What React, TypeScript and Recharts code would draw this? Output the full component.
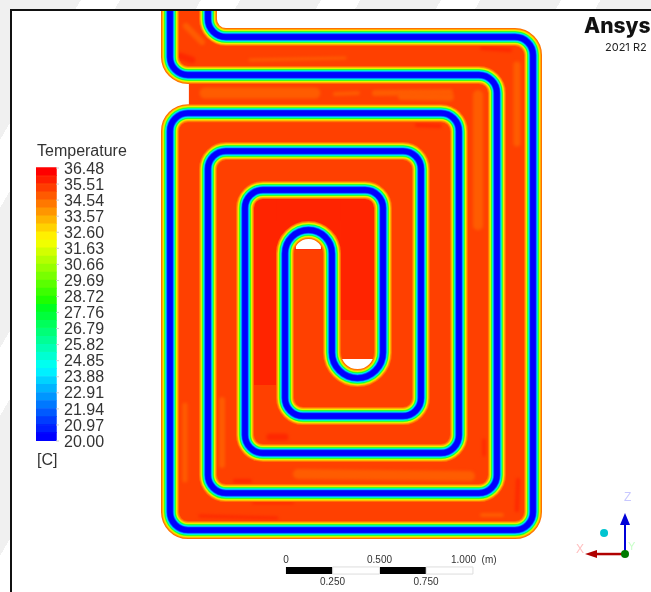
import { Bar, BarChart, Cell, ComposedChart, Line, ReferenceArea, ReferenceDot, XAxis, YAxis } from 'recharts'

// Pipe centreline, in metres (scale bar: 0 to 1 m is 187 px)
const pipeX = [-0.417, -0.417, 1.321, 1.321, -0.62, -0.62, 0.925, 0.925, -0.219, -0.219, 0.519, 0.519, 0.246, 0.246, -0.005, -0.005, 0.722, 0.722, -0.417, -0.417, 1.128, 1.128, -0.62, -0.62]
const pipeY = [2.829, 2.69, 2.69, 0.053, 0.053, 2.283, 2.283, 0.465, 0.465, 1.872, 1.872, 0.866, 0.866, 1.658, 1.658, 0.663, 0.663, 2.08, 2.08, 0.251, 0.251, 2.487, 2.487, 2.829]

// Temperature bands of the pipe wall, outer edge to centre
const pipeBandColors = ['#ff7000', '#ffa000', '#ffd200', '#e0ff00', '#80ff00', '#00ff40', '#00ffb0', '#00e0ff', '#0090ff', '#0040ff', '#0000ff']
const pipeBandWidths = [18, 16, 14.6, 13.4, 12.2, 11, 9.8, 8.6, 7.4, 6.4, 5.4]

// Rectangles [x1, x2, y1, y2] in metres
const fieldBoxes = [
  [-0.62, 1.321, 2.283, 0.053],
  [-0.519, 1.321, 2.49, 2.27],
  [-0.62, 1.321, 2.69, 2.48],
  [-0.62, -0.417, 2.829, 2.68],
]
const hotBoxes = [
  [-0.171, -0.053, 1.824, 0.829],
  [-0.171, 0.471, 1.824, 1.706],
  [0.294, 0.471, 1.824, 1.176],
  [-0.053, 0.294, 1.824, 1.551],
]
const emptyBoxes = [
  [0.053, 0.187, 1.668, 1.556],
  [0.289, 0.476, 0.968, 0.856],
]

// Patches of the flow field [x1, y1, x2, y2]
const warmPatches = [
  [-0.535, 2.749, -0.449, 2.663],
  [-0.193, 2.567, 0.316, 2.578],
  [-0.433, 2.39, 0.155, 2.39],
  [0.262, 2.385, 0.385, 2.39],
  [0.476, 2.39, 0.877, 2.396],
  [1.235, 2.54, 1.235, 2.123],
  [1.027, 2.38, 1.027, 1.684],
  [0.62, 2.374, 0.877, 2.369],
  [-0.54, 0.722, -0.54, 0.321],
  [-0.342, 0.749, -0.342, 0.401],
  [0.064, 0.353, 0.984, 0.342],
  [1.048, 0.134, 1.155, 0.134],
]
const warmWidths = [6, 3, 11, 4, 6, 7, 10, 8, 5, 6, 10, 4]
const hotPatches = [
  [-0.567, 2.588, -0.503, 2.567],
  [-0.086, 0.551, -0.005, 0.551],
  [-0.273, 0.316, -0.193, 0.316],
  [-0.46, 0.128, -0.048, 0.118],
  [-0.176, 0.198, 0.037, 0.198],
  [1.048, 2.631, 1.198, 2.62],
  [1.241, 0.321, 1.235, 0.16],
  [1.059, 0.535, 1.059, 0.455],
  [0.701, 2.219, 0.824, 2.214],
]
const hotWidths = [7, 7, 4, 3, 2, 4, 4, 3, 4]

// Legend
const legendTicks = [36.48, 35.51, 34.54, 33.57, 32.6, 31.63, 30.66, 29.69, 28.72, 27.76, 26.79, 25.82, 24.85, 23.88, 22.91, 21.94, 20.97, 20]
const bandTemps = [36.24, 35.75, 35.27, 34.78, 34.3, 33.81, 33.33, 32.84, 32.36, 31.87, 31.39, 30.9, 30.42, 29.93, 29.45, 28.96, 28.48, 27.99, 27.51, 27.02, 26.54, 26.06, 25.57, 25.09, 24.6, 24.12, 23.63, 23.15, 22.66, 22.18, 21.69, 21.21, 20.72, 20.24]
const bandColors = ['#ff0000', '#ff1e00', '#ff3c00', '#ff5a00', '#ff7800', '#ff9600', '#ffb400', '#ffd200', '#fff000', '#f0ff00', '#d2ff00', '#b4ff00', '#96ff00', '#78ff00', '#5aff00', '#3cff00', '#1eff00', '#00ff1e', '#00ff3c', '#00ff5a', '#00ff78', '#00ff96', '#00ffb4', '#00ffd2', '#00fff0', '#00f0ff', '#00d2ff', '#00b4ff', '#0096ff', '#0078ff', '#005aff', '#003cff', '#001eff', '#0000ff']

// Scale bar in metres
const scaleBlack = [[0, 0.25], [0.5, 0.75]]
const scaleWhite = [[0.25, 0.5], [0.75, 1]]
const scaleLabelsTop = ['0', '0.500']
const scaleLabelsBottom = ['0.250', '0.750']

const legendData = bandTemps.map(temp => ({ temp, on: 1 }))
const pipeData = pipeX.map((x, i) => ({ x, y: pipeY[i] }))
const segment = (p: number[]) => [{ x: p[0], y: p[1] }, { x: p[2], y: p[3] }]

const CORNER = 18

// d3 style curve: straight runs with rounded bends, the short U-turn runs become half circles
const roundedPipe = (ctx: any) => {
  let pts: number[][] = []
  const dist = (a: number[], b: number[]) => Math.hypot(a[0] - b[0], a[1] - b[1])
  return {
    areaStart() {},
    areaEnd() {},
    lineStart() { pts = [] },
    point(x: number, y: number) { pts.push([x, y]) },
    lineEnd() {
      ctx.moveTo(pts[0][0], pts[0][1])
      for (let i = 1; i < pts.length - 1; i++) {
        const before = dist(pts[i - 1], pts[i])
        const after = dist(pts[i], pts[i + 1])
        let r = CORNER
        if (i > 1 && before < 60) r = before / 2
        if (i < pts.length - 2 && after < 60) r = after / 2
        ctx.arcTo(pts[i][0], pts[i][1], pts[i + 1][0], pts[i + 1][1], r)
      }
      ctx.lineTo(pts[pts.length - 1][0], pts[pts.length - 1][1])
    },
  }
}

const textBase = { position: 'absolute' as const, fontFamily: '"Liberation Sans", Arial, sans-serif', color: '#333', whiteSpace: 'pre' as const, lineHeight: 1 }

const arrowHead = (points: string, fill: string) => (props: any) => (
  <path key={points} transform={`translate(${props.cx},${props.cy})`} d={points} fill={fill} />
)

export default function App() {
  return (
    <div style={{ position: 'absolute', left: 0, top: 0, width: 651, height: 592, overflow: 'hidden', background: 'repeating-linear-gradient(120deg, #f0f0f0 0 70px, #ffffff 70px 104px)', filter: 'blur(0.7px)' }}>
      <div style={{ position: 'absolute', left: 10, top: 9, width: 641, height: 583, background: '#fff', borderLeft: '2px solid #111', borderTop: '2px solid #111' }} />

      <div style={{ position: 'absolute', left: 0, top: 0 }}>
        <ComposedChart width={651} height={592} margin={{ top: 0, right: 0, bottom: 0, left: 0 }}>
          <XAxis dataKey="x" type="number" domain={[-1.529, 1.952]} hide allowDataOverflow />
          <YAxis dataKey="y" type="number" domain={[-0.278, 2.888]} hide allowDataOverflow />

          {fieldBoxes.map((b, i) => (
            <ReferenceArea key={`field-${i}`} x1={b[0]} x2={b[1]} y1={b[2]} y2={b[3]} fill="#ff4000" fillOpacity={1} stroke="none" />
          ))}
          {hotBoxes.map((b, i) => (
            <ReferenceArea key={`hot-${i}`} x1={b[0]} x2={b[1]} y1={b[2]} y2={b[3]} fill="#ff2400" fillOpacity={1} stroke="none" />
          ))}
          {emptyBoxes.map((b, i) => (
            <ReferenceArea key={`empty-${i}`} x1={b[0]} x2={b[1]} y1={b[2]} y2={b[3]} fill="#ffffff" fillOpacity={1} stroke="none" />
          ))}

          {warmPatches.map((p, i) => (
            <Line key={`warm-${i}`} data={segment(p)} dataKey="y" stroke="#ff5c00" strokeWidth={warmWidths[i]} strokeLinecap="round" style={{ filter: 'blur(1.5px)' }} dot={false} activeDot={false} isAnimationActive={false} />
          ))}
          {hotPatches.map((p, i) => (
            <Line key={`hotp-${i}`} data={segment(p)} dataKey="y" stroke="#ff2800" strokeWidth={hotWidths[i]} strokeLinecap="round" style={{ filter: 'blur(1.5px)' }} dot={false} activeDot={false} isAnimationActive={false} />
          ))}

          {pipeBandColors.map((c, i) => (
            <Line key={c} data={pipeData} dataKey="y" type={roundedPipe as any} stroke={c} strokeWidth={pipeBandWidths[i]} dot={false} activeDot={false} isAnimationActive={false} />
          ))}

          {scaleBlack.map(s => (
            <ReferenceArea key={s[0]} x1={s[0]} x2={s[1]} y1={-0.144} y2={-0.182} fill="#000" fillOpacity={1} stroke="none" />
          ))}
          {scaleWhite.map(s => (
            <ReferenceArea key={s[0]} x1={s[0]} x2={s[1]} y1={-0.144} y2={-0.182} fill="#fff" fillOpacity={1} stroke="#dddddd" />
          ))}

          {/* axis triad */}
          <Line data={[{ x: 1.813, y: -0.075 }, { x: 1.813, y: 0.1 }]} dataKey="y" stroke="#0000d8" strokeWidth={2} dot={false} activeDot={false} isAnimationActive={false} />
          <Line data={[{ x: 1.813, y: -0.075 }, { x: 1.65, y: -0.075 }]} dataKey="y" stroke="#b00000" strokeWidth={2.5} dot={false} activeDot={false} isAnimationActive={false} />
          <Line data={[{ x: 1.813, y: 0.144 }]} dataKey="y" stroke="none" dot={arrowHead('M0,0 L5,12 L-5,12 Z', '#0000d8')} activeDot={false} isAnimationActive={false} />
          <Line data={[{ x: 1.599, y: -0.075 }]} dataKey="y" stroke="none" dot={arrowHead('M0,0 L12,-4 L12,4 Z', '#b00000')} activeDot={false} isAnimationActive={false} />
          <ReferenceDot x={1.813} y={-0.075} r={4} fill="#007a00" stroke="none" />
          <ReferenceDot x={1.701} y={0.037} r={4} fill="#00c4d0" stroke="none" />
        </ComposedChart>
      </div>

      {/* colour scale */}
      <div style={{ position: 'absolute', left: 36, top: 158 }}>
        <BarChart width={74} height={293} layout="vertical" data={legendData} margin={{ top: 10, right: 0, bottom: 10, left: 0 }}>
          <XAxis type="number" domain={[0, 1]} hide />
          <YAxis
            dataKey="temp"
            type="number"
            orientation="right"
            reversed
            domain={[20, 36.48]}
            ticks={legendTicks}
            interval={0}
            width={54}
            axisLine={false}
            tickSize={3}
            tickMargin={5}
            tickLine={{ stroke: '#cccccc' }}
            tickFormatter={(v: number) => v.toFixed(2)}
            tick={{ fill: '#333', fontSize: 16, fontFamily: '"Liberation Sans", Arial, sans-serif', textAnchor: 'start' }}
          />
          <Bar dataKey="on" barSize={10} isAnimationActive={false}>
            {bandColors.map(c => <Cell key={c} fill={c} stroke={c} strokeWidth={1.5} />)}
          </Bar>
        </BarChart>
      </div>

      <div style={{ ...textBase, left: 37, top: 143, fontSize: 16 }}>Temperature</div>
      <div style={{ ...textBase, left: 37, top: 452, fontSize: 16 }}>[C]</div>

      <div style={{ ...textBase, left: 584, top: 15, fontSize: 21, fontWeight: 800, fontFamily: 'Inter, sans-serif', color: '#111' }}>Ansys</div>
      <div style={{ ...textBase, left: 605, top: 42, fontSize: 11, fontFamily: 'Inter, sans-serif', color: '#222' }}>2021 R2</div>

      {scaleLabelsTop.map((t, i) => (
        <div key={t} style={{ ...textBase, left: 286 + i * 93.5, top: 555, fontSize: 10, transform: 'translateX(-50%)' }}>{t}</div>
      ))}
      <div style={{ ...textBase, left: 451, top: 555, fontSize: 10 }}>1.000  (m)</div>
      {scaleLabelsBottom.map((t, i) => (
        <div key={t} style={{ ...textBase, left: 332.5 + i * 93.5, top: 577, fontSize: 10, transform: 'translateX(-50%)' }}>{t}</div>
      ))}

      <div style={{ ...textBase, left: 624, top: 491, fontSize: 12, color: '#c8c8ff' }}>Z</div>
      <div style={{ ...textBase, left: 576, top: 543, fontSize: 12, color: '#ffc0c0' }}>X</div>
      <div style={{ ...textBase, left: 628, top: 541, fontSize: 11, color: '#c8ffc8' }}>Y</div>
    </div>
  )
}
